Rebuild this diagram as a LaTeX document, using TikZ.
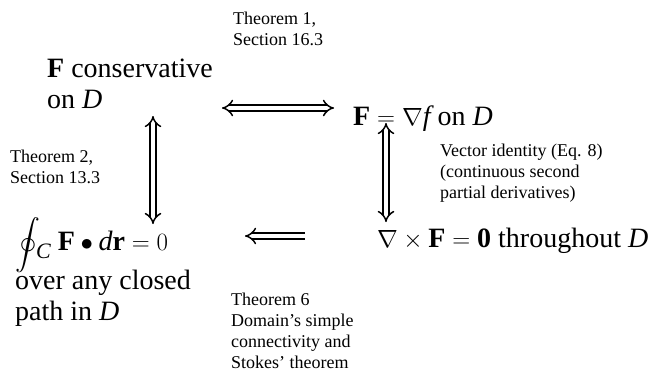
\documentclass[tikz,border=0pt]{standalone}
\usepackage{amsmath}
\usepackage{exscale}
\usepackage{fontspec}
\setmainfont{Liberation Serif}
\usetikzlibrary{arrows.meta}
\newcommand{\bigoint}{{\fontsize{25}{28}\selectfont\raisebox{-1pt}{$\displaystyle\oint$}}\kern-4pt\raisebox{-8pt}{\fontsize{22}{24}\selectfont\textit{C}}}
\begin{document}
\begin{tikzpicture}[x=1pt,y=-1pt,
  big/.style={font=\fontsize{28}{30.5}\selectfont, inner sep=0pt, anchor=base west, align=left},
  lab/.style={font=\fontsize{18}{21}\selectfont, inner sep=0pt, anchor=base west, align=left},
  dbl/.style={double, double distance=4.2pt, line width=1.5pt}]
\useasboundingbox (0,0) rectangle (651,389);
\node[big] (cons) at (47,108) {\textbf{F} conservative\\on \textit{D}};
\node[big] (grad) at (353,125) {$\mathbf{F} = \nabla \mathit{f}$ on \textit{D}};
\node[big] (circ) at (15,250) {\bigoint\ $\mathbf{F}\bullet \mathit{d}\mathbf{r} = 0$};
\node[big] (over) at (15,320) {over any closed\\path in \textit{D}};
\node[big] (curl) at (377,247) {$\nabla \times \mathbf{F} = \mathbf{0}$ throughout \textit{D}};
\node[lab] (t1) at (233,45) {Theorem 1,\\Section 16.3};
\node[lab] (t2) at (10,183) {Theorem 2,\\Section 13.3};
\node[lab] (vi) at (440,198) {Vector identity (Eq. 8)\\(continuous second\\partial derivatives)};
\node[lab] (t6) at (231,368) {Theorem 6\\Domain's simple\\connectivity and\\Stokes' theorem};
\coordinate (h1) at (222,108);
\coordinate (h2) at (334,108);
\coordinate (l1) at (153,116);
\coordinate (l2) at (153,224);
\coordinate (r1) at (386,123);
\coordinate (r2) at (386,222);
\coordinate (b1) at (305,236);
\coordinate (b2) at (245,236);
\draw[dbl,{Implies}-{Implies}] (h1) -- (h2);
\draw[dbl,{Implies}-{Implies}] (l1) -- (l2);
\draw[dbl,{Implies}-{Implies}] (r1) -- (r2);
\draw[dbl,-{Implies}] (b1) -- (b2);
\end{tikzpicture}
\end{document}
